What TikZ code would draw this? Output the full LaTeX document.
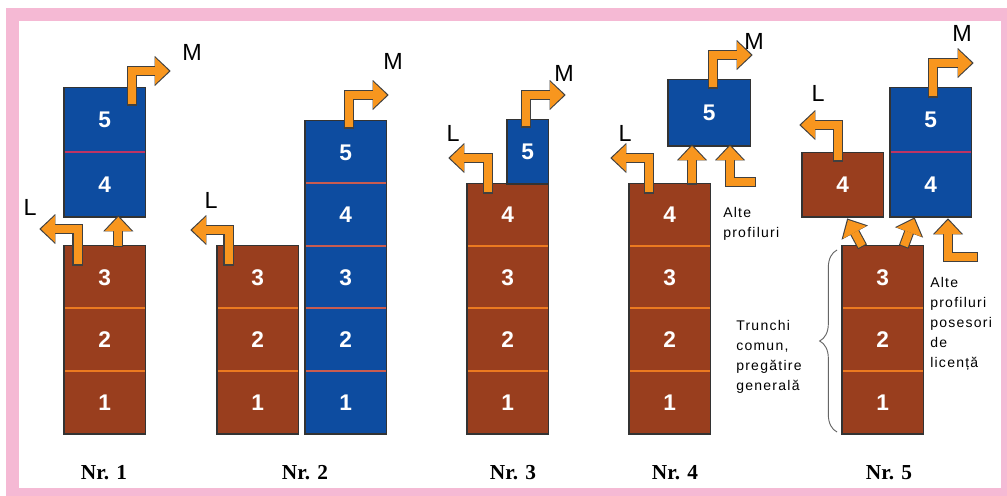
\documentclass[tikz,border=0pt]{standalone}
\usepackage{fontspec}
\setmainfont{Liberation Serif}
\setsansfont{Liberation Sans}
\newfontfamily\notefont[LetterSpace=9]{Liberation Sans}
\usetikzlibrary{arrows.meta,calc,decorations.pathreplacing}

\definecolor{framepink}{RGB}{245,185,212}
\definecolor{trbrown}{RGB}{153,62,30}
\definecolor{spblue}{RGB}{13,76,160}
\definecolor{arrorange}{RGB}{248,150,30}
\definecolor{septr}{RGB}{236,122,32}
\definecolor{sepsp}{RGB}{200,92,80}
\definecolor{sepmag}{RGB}{190,52,100}

\tikzset{
  sec/.style={anchor=south west, inner sep=0pt, minimum width=60.75pt, minimum height=46.9pt,
    text=white, font=\sffamily\bfseries\fontsize{17}{20}\selectfont},
  tr/.style={sec, fill=trbrown},
  sp/.style={sec, fill=spblue},
  outline/.style={draw=black!80, line width=0.8pt},
  sepline/.style={line width=1.5pt},
  flow/.style={draw=arrorange, line width=6pt, line join=miter,
    -{Triangle[width=20pt,length=10.5pt,line width'=0pt]},
    preaction={draw=black!75, line width=7.6pt, shorten >=-1.3pt, shorten <=-0.8pt,
      -{Triangle[width=22.5pt,length=12pt,line width'=0pt]}}},
  tag/.style={font=\sffamily\fontsize{17.5}{20}\selectfont},
  note/.style={anchor=north west, align=left, inner sep=0pt, font=\notefont\fontsize{10.5}{15}\selectfont},
  nr/.style={font=\bfseries\fontsize{16}{19}\selectfont},
}

\begin{document}
\begin{tikzpicture}[x=0.75pt,y=-0.75pt]
  \useasboundingbox (0,0) rectangle (1007,496);
  \fill[framepink] (6,8) rectangle (1007,496);
  \fill[white] (19,21) rectangle (1001,488);

  % Nr. 1
  \foreach \i in {1,2,3} \node[tr] (a\i) at (64,{434-62.5*(\i-1)}) {\i};
  \node[sp,minimum height=48.4pt] (a4) at (64,217) {4};
  \node[sp,minimum height=48.4pt] (a5) at (64,152.5) {5};
  \foreach \i in {1,2} \draw[sepline,septr] (a\i.north west) -- (a\i.north east);
  \draw[sepline,sepmag] (a4.north west) -- (a4.north east);
  \draw[outline] (a1.south west) rectangle (a3.north east);
  \draw[outline] (a4.south west) rectangle (a5.north east);

  % Nr. 2
  \foreach \i in {1,2,3} \node[tr] (b\i) at (217,{434-62.5*(\i-1)}) {\i};
  \foreach \i in {1,...,5} \node[sp] (c\i) at (305,{434-62.5*(\i-1)}) {\i};
  \foreach \i in {1,2} \draw[sepline,septr] (b\i.north west) -- (b\i.north east);
  \foreach \i in {1,...,4} \draw[sepline,sepsp] (c\i.north west) -- (c\i.north east);
  \draw[outline] (b1.south west) rectangle (b3.north east);
  \draw[outline] (c1.south west) rectangle (c5.north east);

  % Nr. 3
  \foreach \i in {1,...,4} \node[tr] (d\i) at (467,{434-62.5*(\i-1)}) {\i};
  \node[sp,minimum width=30.75pt,minimum height=48pt] (d5) at (507,184) {5};
  \foreach \i in {1,2,3} \draw[sepline,septr] (d\i.north west) -- (d\i.north east);
  \draw[outline] (d1.south west) rectangle (d4.north east);
  \draw[outline] (d5.south west) rectangle (d5.north east);

  % Nr. 4
  \foreach \i in {1,...,4} \node[tr] (e\i) at (629,{434-62.5*(\i-1)}) {\i};
  \node[sp,minimum width=61.5pt,minimum height=49.5pt] (e5) at (668,146) {5};
  \foreach \i in {1,2,3} \draw[sepline,septr] (e\i.north west) -- (e\i.north east);
  \draw[outline] (e1.south west) rectangle (e4.north east);
  \draw[outline] (e5.south west) rectangle (e5.north east);

  % Nr. 5
  \foreach \i in {1,2,3} \node[tr] (f\i) at (842,{434-62.5*(\i-1)}) {\i};
  \node[tr,minimum height=48pt] (f4) at (802,217) {4};
  \node[sp,minimum height=48.4pt] (g4) at (890,217) {4};
  \node[sp,minimum height=48.4pt] (g5) at (890,152.5) {5};
  \foreach \i in {1,2} \draw[sepline,septr] (f\i.north west) -- (f\i.north east);
  \draw[sepline,sepmag] (g4.north west) -- (g4.north east);
  \draw[outline] (f1.south west) rectangle (f3.north east);
  \draw[outline] (f4.south west) rectangle (f4.north east);
  \draw[outline] (g4.south west) rectangle (g5.north east);

  % free ends of the arrows
  \coordinate (lt1) at (41,229);   \coordinate (mt1) at (169,71);
  \coordinate (lt2) at (192,230);  \coordinate (mt2) at (387,95);
  \coordinate (lt3) at (450,158);  \coordinate (mt3) at (564,95);
  \coordinate (lt4) at (612,158);  \coordinate (mt4) at (751,55);
  \coordinate (ot4) at (755,182);
  \coordinate (lt5) at (801,125);  \coordinate (mt5) at (972,63);
  \coordinate (ot5) at (977,257);

  % arrows
  \draw[flow] ($(a3.north west)+(13.5,18.5)$) |- (lt1);
  \draw[flow] ($(a3.north)+(13.5,0)$) -- ($(a4.south)+(13.5,0)$);
  \draw[flow] ($(a5.north west)+(68,17)$) |- (mt1);
  \draw[flow] ($(b3.north west)+(11.5,18.5)$) |- (lt2);
  \draw[flow] ($(c5.north west)+(44,6.5)$) |- (mt2);
  \draw[flow] ($(d4.north west)+(21,9)$) |- (lt3);
  \draw[flow] ($(d5.north west)+(19,7)$) |- (mt3);
  \draw[flow] ($(e4.north west)+(20,9)$) |- (lt4);
  \draw[flow] ($(e4.north west)+(63,0)$) -- ($(e5.south west)+(24,0)$);
  \draw[flow] (ot4) -| ($(e5.south west)+(62,0)$);
  \draw[flow] ($(e5.north west)+(45,8)$) |- (mt4);
  \draw[flow] ($(f4.north west)+(36,8)$) |- (lt5);
  \draw[flow] ($(g5.north west)+(43,9)$) |- (mt5);
  \draw[flow] ($(f3.north west)+(20,0)$) -- ($(f4.south west)+(46,3)$);
  \draw[flow] ($(f3.north west)+(62,0)$) -- ($(g4.south west)+(24,2)$);
  \draw[flow] (ot5) -| ($(g4.south west)+(58,3)$);

  % labels
  \node[tag] (l1) at (30,207) {L};   \node[tag] (m1) at (192,52) {M};
  \node[tag] (l2) at (211,200) {L};  \node[tag] (m2) at (393,61) {M};
  \node[tag] (l3) at (453,133) {L};  \node[tag] (m3) at (564,73) {M};
  \node[tag] (l4) at (625,133) {L};  \node[tag] (m4) at (754,41) {M};
  \node[tag] (l5) at (818,93) {L};   \node[tag] (m5) at (962,33) {M};

  \node[note] (alt4) at (723,207) {Alte\\profiluri};
  \node[note] (alt5) at (930,277) {Alte\\profiluri\\posesori\\de\\licență};
  \node[note] (trunchi) at (736,320) {Trunchi\\comun,\\pregătire\\generală};
  \draw[black!60, line width=0.7pt, decoration={brace,amplitude=13pt}, decorate] (837,432) -- (837,250);

  \node[nr] (n1) at (104,473) {Nr. 1};
  \node[nr] (n2) at (305,473) {Nr. 2};
  \node[nr] (n3) at (513,473) {Nr. 3};
  \node[nr] (n4) at (675,473) {Nr. 4};
  \node[nr] (n5) at (889,473) {Nr. 5};
\end{tikzpicture}
\end{document}
